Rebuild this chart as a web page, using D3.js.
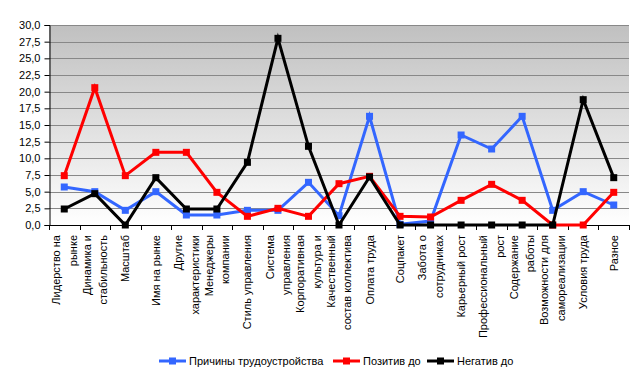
<!DOCTYPE html>
<html><head><meta charset="utf-8">
<script src="https://cdn.jsdelivr.net/npm/d3@7"></script>
<style>body{margin:0;background:#fff;}svg{display:block;font-family:"Liberation Sans",Arial,sans-serif;}</style>
</head><body>
<script>
const categories = ["Лидерство на\nрынке","Динамика и\nстабильность","Масштаб","Имя на рынке","Другие\nхарактеристики","Менеджеры\nкомпании","Стиль управления","Система\nуправления","Корпоративная\nкультура и","Качественный\nсостав коллектива","Оплата труда","Соцпакет","Забота о\nсотрудниках","Карьерный рост","Профессиональный\nрост","Содержание\nработы","Возможности для\nсамореализации","Условия труда","Разное"];
const seriesNames = ["Причины трудоустройства","Позитив до","Негатив до"];
const reasons  = [5.7,5.0,2.2,5.0,1.5,1.5,2.2,2.2,6.4,1.4,16.3,0.1,0.6,13.5,11.4,16.3,2.2,5.0,3.0];
const positive = [7.4,20.6,7.4,10.9,10.9,4.9,1.3,2.5,1.3,6.2,7.3,1.3,1.2,3.7,6.1,3.7,0.0,0.0,4.9];
const negative = [2.4,4.7,0.0,7.1,2.4,2.4,9.4,28.0,11.8,0.0,7.2,0.0,0.0,0.0,0.0,0.0,0.0,18.8,7.1];
const yTicks = [0,2.5,5,7.5,10,12.5,15,17.5,20,22.5,25,27.5,30];
const colors = ["#3366ff","#ff0000","#000000"];

const W=643,H=378, L=49, R=629, T=25, B=225;
const svg=d3.select("body").append("svg").attr("width",W).attr("height",H);
const x=d3.scaleBand().domain(d3.range(categories.length)).range([L,R]).padding(0);
const y=d3.scaleLinear().domain([0,30]).range([B,T]);

const defs=svg.append("defs");
const g=defs.append("linearGradient").attr("id","bg").attr("x1",0).attr("y1",0).attr("x2",0).attr("y2",1);
g.append("stop").attr("offset","0%").attr("stop-color","#c0c0c0");
g.append("stop").attr("offset","100%").attr("stop-color","#ffffff");
svg.append("rect").attr("x",L).attr("y",T).attr("width",R-L).attr("height",B-T).attr("fill","url(#bg)");

// grid
svg.append("g").selectAll("line").data(yTicks.filter(d=>d>0)).join("line")
 .attr("x1",L).attr("x2",R).attr("y1",d=>Math.round(y(d))+0.5).attr("y2",d=>Math.round(y(d))+0.5)
 .attr("stroke","#888").attr("stroke-width",1);

// y axis
const fmt=d=>d3.format(".1f")(d).replace(".",",");
const ya=svg.append("g").attr("transform",`translate(${L+0.5},0)`)
 .call(d3.axisLeft(y).tickValues(yTicks).tickFormat(fmt).tickSize(5).tickPadding(4));
ya.selectAll("text").attr("font-size","11px").attr("fill","#000").attr("font-family","Liberation Sans, Arial, sans-serif");
ya.selectAll("line,path").attr("stroke","#000");

// x axis line and ticks
const xa=svg.append("g");
xa.append("line").attr("x1",L).attr("x2",R+1).attr("y1",B+0.5).attr("y2",B+0.5).attr("stroke","#000");
xa.selectAll("line.t").data(d3.range(categories.length+1)).join("line").attr("class","t")
 .attr("x1",i=>Math.round(L+i*x.bandwidth())+0.5).attr("x2",i=>Math.round(L+i*x.bandwidth())+0.5)
 .attr("y1",B).attr("y2",B+5).attr("stroke","#000");

// category labels
categories.forEach((c,i)=>{
  const lines=c.split("\n"); const n=lines.length;
  const cx=x(i)+x.bandwidth()/2;
  lines.forEach((ln,j)=>{
    const off=(j-(n-1)/2)*16.5;
    svg.append("text").attr("transform",`translate(${cx+off+4},235) rotate(-90)`)
      .attr("text-anchor","end").attr("font-size","11px").attr("fill","#000").text(ln);
  });
});

// series
const allSeries=[reasons,positive,negative];
const line=d3.line().x((d,i)=>x(i)+x.bandwidth()/2).y(d=>y(d));
allSeries.forEach((s,k)=>{
  svg.append("path").datum(s).attr("d",line).attr("fill","none").attr("stroke",colors[k]).attr("stroke-width",3).attr("stroke-linejoin","miter");
  svg.append("g").selectAll("rect").data(s).join("rect")
   .attr("x",(d,i)=>x(i)+x.bandwidth()/2-3.5).attr("y",d=>y(d)-3.5).attr("width",7).attr("height",7).attr("fill",colors[k]);
});

// legend
const legX=[159,333,427], legY=361;
seriesNames.forEach((nm,k)=>{
  const lg=svg.append("g");
  lg.append("line").attr("x1",legX[k]).attr("x2",legX[k]+27).attr("y1",legY).attr("y2",legY).attr("stroke",colors[k]).attr("stroke-width",3);
  lg.append("rect").attr("x",legX[k]+13.5-3.5).attr("y",legY-3.5).attr("width",7).attr("height",7).attr("fill",colors[k]);
  lg.append("text").attr("x",legX[k]+30).attr("y",legY+4).attr("font-size","11px").attr("fill","#000").text(nm);
});
</script>
</body></html>
